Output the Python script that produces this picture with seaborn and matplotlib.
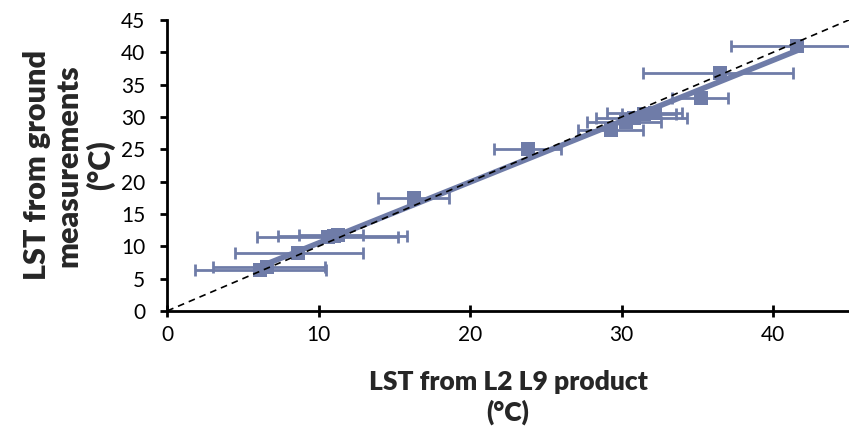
import matplotlib.pyplot as plt
import seaborn as sns
import pandas as pd
import numpy as np

# LST values (°C)
lst_l9 = [6.1, 6.6, 8.6, 10.6, 11.0, 11.3, 16.3, 23.8, 29.3, 30.3, 30.8, 31.5, 32.2, 35.2, 36.5, 41.6]
lst_ground = [6.4, 6.8, 9.0, 11.4, 11.6, 11.8, 17.5, 25.0, 27.9, 29.2, 29.8, 30.4, 30.6, 33.0, 36.8, 41.0]
err_low = [1.8, 3.0, 4.5, 5.9, 7.3, 8.7, 13.9, 21.6, 27.1, 27.7, 28.3, 30.0, 29.0, 33.3, 31.4, 37.2]
err_high = [10.5, 10.4, 12.9, 15.2, 15.8, 12.9, 18.6, 26.0, 31.4, 32.6, 34.3, 33.6, 34.0, 37.0, 41.3, 46.5]

df = pd.DataFrame({'l9': lst_l9, 'ground': lst_ground, 'lo': err_low, 'hi': err_high})
color = '#6F7CA8'

sns.set_style('ticks')
plt.rcParams['font.family'] = ['Lato', 'DejaVu Sans']

fig = plt.figure(figsize=(8.49, 4.33), dpi=100)
ax = fig.add_axes([0.197, 0.282, 0.803, 0.672])

# horizontal error bars
ax.errorbar(df['l9'], df['ground'],
            xerr=[df['l9'] - df['lo'], df['hi'] - df['l9']],
            fmt='none', ecolor=color, elinewidth=2, capsize=4, capthick=2, zorder=2)

# points + linear trend
sns.regplot(data=df, x='l9', y='ground', ax=ax, ci=None, truncate=True,
            marker='s', color=color,
            scatter_kws={'s': 90, 'alpha': 1, 'zorder': 3, 'linewidths': 0},
            line_kws={'linewidth': 4, 'zorder': 4})

# 1:1 line
ax.plot([0, 45], [0, 45], color='black', linestyle=(0, (4, 3)), linewidth=1.2, zorder=5)

ax.set_xlim(0, 45)
ax.set_ylim(0, 45)
ax.set_xticks([0, 10, 20, 30, 40])
ax.set_yticks(np.arange(0, 46, 5))
ax.tick_params(axis='both', labelsize=15, width=2, length=5, colors='black')
ax.tick_params(axis='x', direction='inout', length=8, pad=6)
ax.tick_params(axis='y', pad=11)
ax.set_xlabel('LST from L2 L9 product\n(°C)', fontsize=19, fontweight='heavy', labelpad=18, linespacing=1.25)
ax.set_ylabel('LST from ground\nmeasurements\n(°C)', fontsize=22, fontweight='heavy', labelpad=4, linespacing=1.15)

sns.despine(ax=ax)
for s in ['left', 'bottom']:
    ax.spines[s].set_linewidth(2)
    ax.spines[s].set_color('black')

plt.savefig('out.png', dpi=100)
